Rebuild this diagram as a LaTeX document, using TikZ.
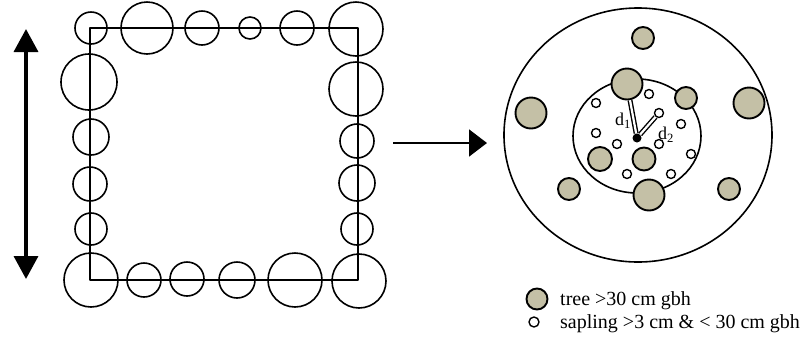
\documentclass[tikz,border=0pt]{standalone}
\usepackage{fontspec}
\setmainfont{Liberation Serif}
\usetikzlibrary{arrows.meta}
\definecolor{bark}{RGB}{196,192,166}

\begin{document}
\begin{tikzpicture}[x=1pt, y=-1pt, line join=round,
    ring/.style={line width=1.6pt},
    tree/.style={circle, draw, line width=1.9pt, fill=bark, inner sep=0pt},
    sapling/.style={circle, draw, line width=1.4pt, fill=white, inner sep=0pt, minimum size=9pt},
    dist/.style={double, double distance=2.2pt, line width=1.4pt},
    keytext/.style={anchor=base west, inner sep=0pt, font=\fontsize{20}{24}\selectfont}]
    \useasboundingbox (0,0) rectangle (804,341);

    % Quadrat with the boundary trees
    \draw[ring] (90,28) rectangle (358,280);
    \foreach \x/\y/\r in {91/28/16, 147/28/26, 202/28/17, 250/28/11, 297/28/17, 356/29/27,
                          356/89/27, 357/141/17, 357/183/18, 357/229/16, 359/281/27,
                          91/280/27, 144/280/17, 187/279/17, 237/280/18, 295/280/27,
                          89/82/28, 91/137/18, 90/184/17, 91/229/16}
        \draw[ring] (\x,\y) circle (\r pt);

    % Side arrows
    \coordinate (up) at (26,29);
    \coordinate (down) at (26,279);
    \draw[line width=3.6pt, {Triangle[length=23pt, width=24pt]}-{Triangle[length=23pt, width=24pt]}] (up) -- (down);
    \coordinate (from) at (393,143);
    \coordinate (to) at (487,143);
    \draw[line width=1.8pt, -{Triangle[length=18pt, width=27pt]}] (from) -- (to);

    % Plot circles
    \draw[ring] (638,135) ellipse (134pt and 127pt);
    \draw[ring] (637,136) ellipse (64pt and 57pt);

    % Trees
    \node[tree, minimum size=22pt] (t1) at (643,38) {};
    \node[tree, minimum size=31pt] (t2) at (627,84) {};
    \node[tree, minimum size=22pt] (t3) at (686,98) {};
    \node[tree, minimum size=31pt] (t4) at (531,113) {};
    \node[tree, minimum size=31pt] (t5) at (749,103) {};
    \node[tree, minimum size=24pt] (t6) at (600,159) {};
    \node[tree, minimum size=23pt] (t7) at (644,159) {};
    \node[tree, minimum size=31pt] (t8) at (649,195) {};
    \node[tree, minimum size=22pt] (t9) at (569,189) {};
    \node[tree, minimum size=22pt] (t10) at (729,189) {};

    % Saplings
    \foreach \x/\y [count=\i] in {596/103, 649/94, 659/113, 681/124, 596/133,
                                  617/144, 659/144, 691/154, 627/174, 671/174}
        \node[sapling] (s\i) at (\x,\y) {};

    % Distances from the centre
    \node[circle, fill, inner sep=0pt, minimum size=9pt] (ctr) at (637,138) {};
    \draw[dist] (ctr) -- (t2);
    \draw[dist] (ctr) -- (s3);
    \node[font=\fontsize{18}{18}\selectfont] (d1) at (623,121) {d\textsubscript{1}};
    \node[font=\fontsize{18}{18}\selectfont] (d2) at (666,135) {d\textsubscript{2}};

    % Key
    \node[tree, minimum size=21pt] (keytree) at (537,299) {};
    \node[keytext] (treetext) at (560,305) {tree >30 cm gbh};
    \node[sapling, minimum size=10pt] (keysap) at (534,322) {};
    \node[keytext] (saptext) at (560,328) {sapling >3 cm \& < 30 cm gbh};
\end{tikzpicture}
\end{document}
